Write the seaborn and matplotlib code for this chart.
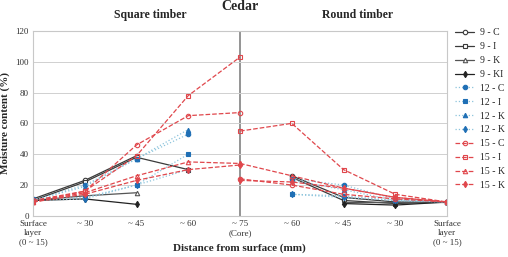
import numpy as np
import pandas as pd
import matplotlib
matplotlib.use('Agg')
import matplotlib.pyplot as plt
import seaborn as sns

sns.set_style('white')
plt.rcParams['font.family'] = ['Liberation Serif', 'DejaVu Serif']

nan = np.nan

# 位置标签
xticks = ['Surface\nlayer\n(0 ~ 15)', '~ 30', '~ 45', '~ 60', '~ 75\n(Core)',
          '~ 60', '~ 45', '~ 30', 'Surface\nlayer\n(0 ~ 15)']

series_names = ['9 - C', '9 - I', '9 - K', '9 - KI',
                '12 - C', '12 - I', '12 - K', '12 - K',
                '15 - C', '15 - I', '15 - K', '15 - K']

# Square timber: surface, ~30, ~45, ~60, core
square_vals = [
    [11, 23, 39, nan, nan],
    [10, 22, 38, 30, nan],
    [10, 13, 15, nan, nan],
    [10, 11, 7.5, nan, nan],
    [10, 20, 37, 53, nan],
    [11, 12, 20, 40, nan],
    [10, 19, 37, 56, nan],
    [10, 11, 20, 30, nan],
    [10, 16, 46, 65, 67],
    [9, 16, 39, 78, 103],
    [9, 15, 26, 35, 34],
    [9, 14, 23, 30, 33],
]

# Round timber: core, ~60, ~45, ~30, surface
round_vals = [
    [nan, 26, 12, 9, 9],
    [nan, 25, 10, 8, 9],
    [nan, nan, 9, 9, 9],
    [nan, nan, 8, 7, 9],
    [nan, 24, 20, 11, 9],
    [nan, 14, 13, 10, 9],
    [nan, 23, 17, 10, 9],
    [nan, 14, 12, 10, 9],
    [24, 20, 14, 11, 9],
    [55, 60, 30, 14, 9],
    [34, 26, 18, 12, 9],
    [23, 22, 18, 12, 9],
]

# 样式
dark = '#3a3a3a'
blue = '#1f6fb5'
lblue = '#8cc4dc'
red = '#e0474c'
styles = [
    dict(color=dark, ls='-', marker='o', mfc='white', mec=dark),
    dict(color=dark, ls='-', marker='s', mfc='white', mec=dark),
    dict(color='#555555', ls='-', marker='^', mfc='white', mec='#555555'),
    dict(color='#222222', ls='-', marker='d', mfc='#222222', mec='#222222'),
    dict(color=lblue, ls=':', marker='o', mfc=blue, mec=blue),
    dict(color=lblue, ls=':', marker='s', mfc=blue, mec=blue),
    dict(color=lblue, ls=':', marker='^', mfc=blue, mec=blue),
    dict(color=lblue, ls=':', marker='d', mfc=blue, mec=blue),
    dict(color=red, ls='--', marker='o', mfc='none', mec=red),
    dict(color=red, ls='--', marker='s', mfc='none', mec=red),
    dict(color=red, ls='--', marker='^', mfc='none', mec=red),
    dict(color=red, ls='--', marker='d', mfc=red, mec=red),
]

fig = plt.figure(figsize=(5.08, 2.57), dpi=100)
ax = fig.add_axes([0.065, 0.16, 0.815, 0.72])

for name, sv, rv, st in zip(series_names, square_vals, round_vals, styles):
    left = pd.DataFrame({'x': range(0, 5), 'y': sv}).dropna()
    right = pd.DataFrame({'x': range(4, 9), 'y': rv}).dropna()
    kw = dict(color=st['color'], linestyle=st['ls'], marker=st['marker'],
              markerfacecolor=st['mfc'], markeredgecolor=st['mec'],
              markersize=3.2, markeredgewidth=0.8, linewidth=0.9)
    sns.lineplot(data=left, x='x', y='y', ax=ax, label=name, **kw)
    sns.lineplot(data=right, x='x', y='y', ax=ax, **kw)

ax.axvline(4, color='#777777', lw=1.1, zorder=0)
ax.set_xlim(0, 8)
ax.set_ylim(0, 120)
ax.set_yticks(range(0, 121, 20))
ax.set_xticks(range(9))
ax.set_xticklabels(xticks, fontsize=6.5, color='#333333', linespacing=1.15)
ax.tick_params(axis='y', labelsize=6.5, colors='#333333', length=0, pad=3)
ax.tick_params(axis='x', length=0, pad=3)
ax.yaxis.grid(True, color='#d0d0d0', lw=0.7)
for sp in ax.spines.values():
    sp.set_color('#c8c8c8')
    sp.set_linewidth(0.8)

ax.set_xlabel('')
ax.set_ylabel('Moisture content (%)', fontsize=8, fontweight='bold', labelpad=4)
fig.text(0.472, 0.035, 'Distance from surface (mm)', ha='center', va='center',
         fontsize=8, fontweight='bold')

fig.text(0.472, 1.0, 'Cedar', ha='center', va='top', fontsize=10, fontweight='bold')
fig.text(0.295, 0.94, 'Square timber', ha='center', va='center', fontsize=8.5, fontweight='bold')
fig.text(0.703, 0.94, 'Round timber', ha='center', va='center', fontsize=8.5, fontweight='bold')

ax.legend(loc='upper left', bbox_to_anchor=(1.005, 1.045), frameon=False,
          fontsize=7, handlelength=2.0, handletextpad=0.6,
          labelspacing=0.5, borderaxespad=0.2)

fig.savefig('out.png', dpi=100)
